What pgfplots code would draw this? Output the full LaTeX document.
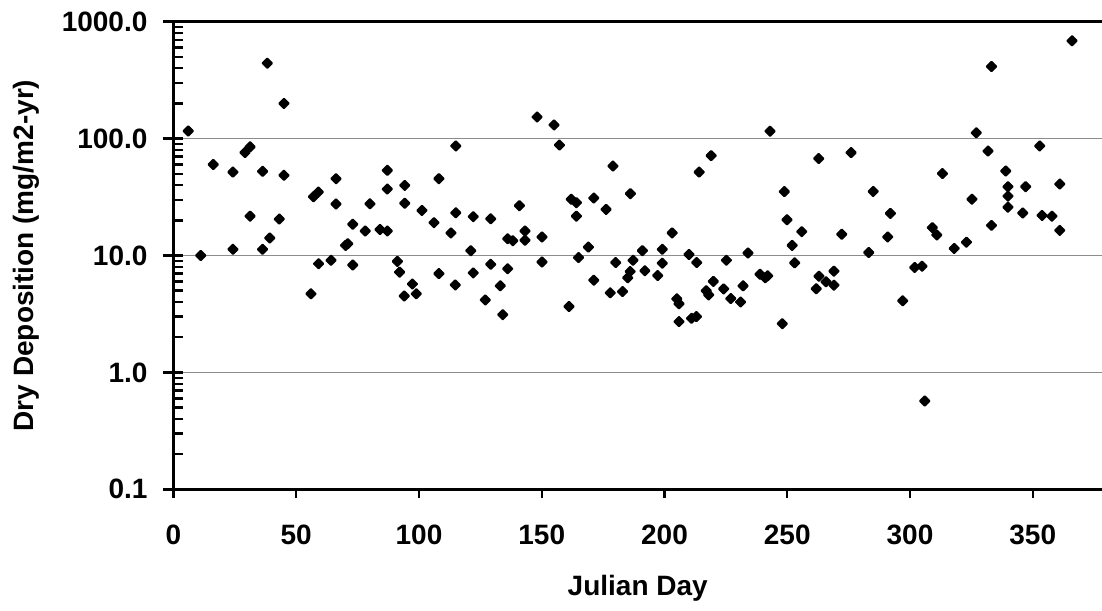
\documentclass[border=0pt]{standalone}
\usepackage{pgfplots}
\pgfplotsset{compat=1.18}
\usepackage{fontspec}
\setmainfont{Liberation Sans}
\begin{document}
\begin{tikzpicture}
\begin{axis}[
  scale only axis,
  width=464.25pt, height=233.8pt,
  ymode=log,
  xmin=0, xmax=378.2,
  ymin=0.1, ymax=1000,
  axis x line*=box,
  axis y line*=left,
  axis line style={line width=1.6pt, black},
  xtick={0,50,100,150,200,250,300,350},
  xticklabels={0,50,100,150,200,250,300,350},
  ytick={0.1,1,10,100,1000},
  yticklabels={0.1,1.0,10.0,100.0,1000.0},
  xtick pos=bottom,
  xtick align=outside,
  ytick align=inside,
  major tick length=4.5pt,
  minor tick length=4.5pt,
  every tick/.style={black, line width=1.2pt},
  extra y ticks={0.1,1,10,100,1000},
  extra y tick labels={},
  extra y tick style={ytick align=outside, major tick length=5pt, grid=none},
  ymajorgrids,
  major grid style={gray!90, line width=0.7pt},
  tick label style={font=\fontsize{14}{16}\selectfont\bfseries},
  xticklabel style={yshift=-10pt},
  yticklabel style={xshift=-9.5pt},
  xlabel={Julian Day},
  ylabel={Dry Deposition (mg/m2-yr)},
  label style={font=\fontsize{14}{16}\selectfont\bfseries},
  x label style={at={(axis description cs:0.5,-0.211)}, anchor=center},
  y label style={at={(axis description cs:-0.158,0.5)}, anchor=center},
  clip=false,
]
\addplot[only marks, mark=square*, mark size=1.65pt, black,
  mark options={rotate=45, line width=1pt, line join=round}] coordinates {
(6.0,116) (11.1,10.0) (16.2,60) (24.2,51.7) (24.2,11.3) (29.1,76) (31.2,85) (31.2,21.7)
(36.3,52.5) (36.3,11.3) (38.2,442) (39.2,14.1) (43.1,20.5) (45,200) (45,48.5)
(56,4.7) (57,31.8) (59,34.9) (59.1,8.5) (64.2,9.1) (66.2,45.4) (66.2,27.6) (70.1,12.2)
(71,12.6) (73,18.5) (73,8.3) (78.1,16.2) (80,27.7) (84.1,16.7) (87.1,16.2) (87.1,53.5)
(87.1,37) (91.2,8.9) (92.1,7.2) (94,4.5) (94.2,39.8) (94.2,28) (97.3,5.7) (98.9,4.7)
(101.2,24.3) (106.1,19.1) (108.1,45.4) (108.1,7.0) (113,15.6) (114.8,5.6) (115,86.5)
(115,23.2) (121.1,11) (122.1,21.5) (122.1,7.1) (127,4.17) (129.2,20.6) (129.2,8.4)
(133.1,5.5) (134.1,3.12) (136.1,7.7) (136.1,13.9) (138.2,13.4) (140.9,26.7) (143.2,16.2)
(143.2,13.5) (148.1,153) (150.1,14.4) (150.1,8.8) (155,131) (157.2,88) (161.1,3.66)
(162,30.3) (164.1,28.3) (164.1,21.7) (165,9.6) (169,11.8) (171.2,31.0) (171.2,6.15)
(176.2,24.8) (177.9,4.79) (179,58.2) (180.1,8.7) (182.9,4.91) (185,6.44) (186,7.3)
(186.1,33.8) (187.2,9.1) (191,11.0) (192,7.4) (197.2,6.74) (199.1,11.3) (199.1,8.6)
(203.1,15.6) (205,4.26) (205.9,3.86) (205.9,2.72) (210,10.2) (211,2.9) (213,3.0)
(213.1,8.7) (214.1,51.7) (217,5.0) (218,4.6) (219,71.5) (219.9,6.0) (224.1,5.18)
(225.2,9.1) (227,4.28) (231,4.0) (232,5.5) (234,10.5) (238.9,6.92) (241,6.45) (242,6.7)
(243,115.6) (248,2.61) (248.8,35.2) (249.9,20.2) (252,12.2) (253,8.65) (255.9,16.0)
(261.8,5.2) (262.8,67.5) (262.9,6.65) (265.8,5.96) (269,7.35) (269,5.57) (272.2,15.2)
(276,75.9) (283.2,10.6) (285,35.3) (290.9,14.4) (292,22.9) (297,4.1) (301.9,7.9)
(304.9,8.1) (306,0.57) (309.1,17.3) (310.9,15.0) (313.2,50.2) (318,11.5) (323,13.0)
(325.2,30.3) (327,112) (331.8,78.3) (333.2,414) (333.2,18.1) (339,52.8) (339.9,38.8)
(339.9,32.2) (339.9,25.9) (345.9,23.1) (347.1,38.8) (352.8,86.5) (353.8,22.0)
(357.8,21.7) (361,40.8) (361,16.4) (366,686)
};
\end{axis}
\pgfresetboundingbox
\path ([shift={(-86.75pt,-60.35pt)}]current axis.south west) rectangle ([shift={(464.25pt,244.65pt)}]current axis.south west);
\end{tikzpicture}
\end{document}
